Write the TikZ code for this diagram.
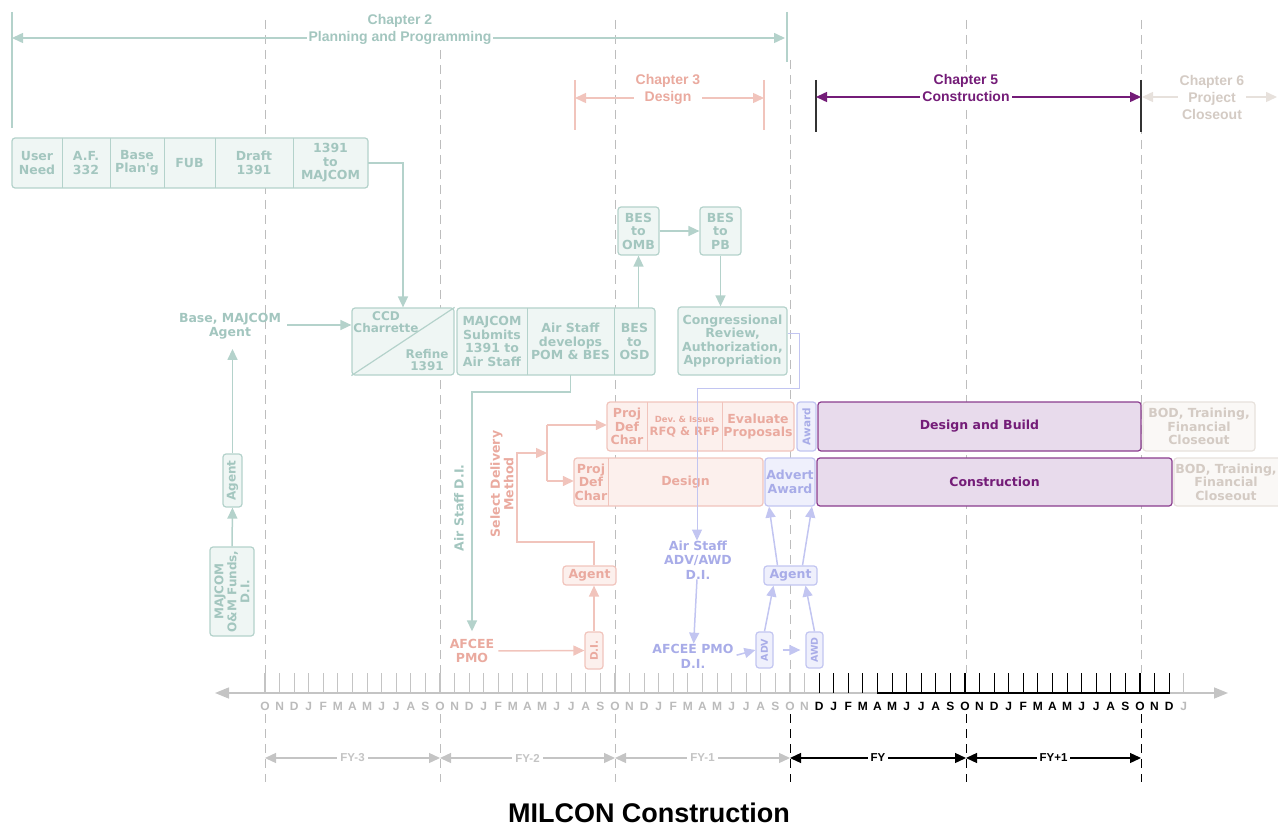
\documentclass[tikz,border=0pt]{standalone}
\usepackage{fontspec}
\setmainfont{Liberation Sans}
\newfontfamily\boxfont{DejaVu Sans}
\usetikzlibrary{arrows.meta,calc}

\definecolor{tealt}{HTML}{A3C6BF}
\definecolor{tealb}{HTML}{B4D2CB}
\definecolor{tealf}{HTML}{EFF6F4}
\definecolor{pinkt}{HTML}{EAAA9F}
\definecolor{pinkb}{HTML}{F1C4BC}
\definecolor{pinkf}{HTML}{FCF0ED}
\definecolor{lavt}{HTML}{A8ACE8}
\definecolor{lavb}{HTML}{C2C5F1}
\definecolor{lavf}{HTML}{EFF0FC}
\definecolor{purt}{HTML}{741C78}
\definecolor{purb}{HTML}{8A3C8E}
\definecolor{purf}{HTML}{E8DBEC}
\definecolor{greyt}{HTML}{D4CBC4}
\definecolor{greyb}{HTML}{E7E1DC}
\definecolor{greyf}{HTML}{FAF8F6}
\definecolor{axisg}{HTML}{C4C4C4}
\definecolor{monthg}{HTML}{BBBBBB}
\definecolor{dashg}{HTML}{BDBDBD}

\begin{document}
\begin{tikzpicture}[x=1pt,y=-1pt,
    >={Triangle[length=11pt,width=10pt]},
    btxt/.style={font=\boxfont\bfseries\fontsize{12.5}{13.5}\selectfont, align=center, inner sep=0pt},
    box/.style={btxt, rounded corners=3pt, line width=1.2pt},
    cell/.style={btxt, minimum height=#1},
    tbox/.style={box, draw=tealb, fill=tealf, text=tealt},
    pbox/.style={box, draw=pinkb, fill=pinkf, text=pinkt},
    lbox/.style={box, draw=lavb, fill=lavf, text=lavt},
    ubox/.style={box, draw=purb, fill=purf, text=purt},
    gbox/.style={box, draw=greyb, fill=greyf, text=greyt},
    tcell/.style={cell=#1, text=tealt},
    pcell/.style={cell=#1, text=pinkt},
    ttext/.style={btxt, text=tealt},
    ptext/.style={btxt, text=pinkt},
    ltext/.style={btxt, text=lavt},
    gtext/.style={btxt, text=greyt},
    tdiv/.style={draw=tealb, line width=1.2pt},
    pdiv/.style={draw=pinkb, line width=1.2pt},
    tarrow/.style={draw=tealb, line width=1.5pt, ->},
    parrow/.style={draw=pinkb, line width=1.5pt, ->},
    pline/.style={draw=pinkb, line width=1.5pt},
    larrow/.style={draw=lavb, line width=1.5pt, ->},
    head/.style={font=\bfseries\fontsize{14}{17}\selectfont, align=center, fill=white, inner sep=2pt},
    bar/.style={line width=1.2pt},
    yline/.style={draw=dashg, line width=1pt, dash pattern=on 9pt off 6pt},
    mtext/.style={font=\bfseries\fontsize{12}{12}\selectfont, inner sep=0pt},
    fytext/.style={font=\bfseries\fontsize{11.5}{12}\selectfont, fill=white, inner sep=3pt}]
\useasboundingbox (0,0) rectangle (1278,829);

% year lines
\foreach \xx/\yy in {265/20,440/50,615/20,790/60,966/20,1141/20}
  \draw[yline] (\xx,\yy) -- (\xx,673);
\foreach \xx/\cc in {265/dashg,440/dashg,615/dashg,790/black,966/black,1141/black}
  \draw[yline,draw=\cc] (\xx,714) -- (\xx,782);

% chapter headers
\coordinate (c2l) at (12,38);
\coordinate (c2r) at (785,38);
\draw[bar,tealb] (12,12) -- (12,128);
\draw[bar,tealb] (787,12) -- (787,62);
\draw[tealb, line width=1.5pt, <->] (c2l) -- (c2r);
\node[head, text=tealt] (ch2) at (400,29) {Chapter 2\\Planning and Programming};

\coordinate (c3l) at (575,98);
\coordinate (c3r) at (764,98);
\draw[bar,pinkb] (575,80) -- (575,130);
\draw[bar,pinkb] (764,80) -- (764,130);
\draw[pinkb, line width=1.5pt, <->] (c3l) -- (c3r);
\node[head, text=pinkt] (ch3) at (668,89) {Chapter 3\\Design};

\coordinate (c5l) at (816,97);
\coordinate (c5r) at (1141,97);
\draw[bar,black!80] (816,80) -- (816,132);
\draw[bar,black!80] (1141,80) -- (1141,132);
\draw[purt, line width=1.5pt, <->] (c5l) -- (c5r);
\node[head, text=purt] (ch5) at (966,88) {Chapter 5\\Construction};

\coordinate (c6l) at (1142,97);
\coordinate (c6r) at (1277,97);
\draw[greyb, line width=1.5pt, <->] (c6l) -- (c6r);
\node[head, text=greyt] (ch6) at (1212,97) {Chapter 6\\Project\\Closeout};

% requirement row
\node[tbox, minimum width=356, minimum height=50] (req) at (190,163) {};
\node[tcell=50, minimum width=50] (un) at (37,163) {User\\Need};
\node[tcell=50, minimum width=48] (af) at (86,163) {A.F.\\332};
\node[tcell=50, minimum width=54] (bp) at (137,163) {Base\\Plan'g};
\node[tcell=50, minimum width=51] (fub) at (189.5,163) {FUB};
\node[tcell=50, minimum width=78] (dr) at (254,163) {Draft\\1391};
\node[tcell=50, minimum width=75] (tm) at (330.5,163) {1391\\to\\MAJCOM};
\foreach \n in {un,af,bp,fub,dr}
  \draw[tdiv] (\n.north east) -- (\n.south east);

% charrette
\node[tbox, minimum width=102, minimum height=67] (ccd) at (403,341.5) {};
\draw[tdiv] (ccd.south west) -- (ccd.north east);
\node[ttext, font=\boxfont\bfseries\fontsize{12}{11.5}\selectfont] (cch) at (386,322) {CCD\\Charrette};
\node[ttext, font=\boxfont\bfseries\fontsize{12}{12.5}\selectfont] (ref) at (427,360) {Refine\\1391};
\draw[tarrow] (tm.east) -| (ccd.north);

\node[ttext] (bma) at (230,326) {Base, MAJCOM\\Agent};
\draw[tarrow, shorten <=6pt] (bma.east |- 0,325) -- (ccd.west |- 0,325);

% submittal row
\node[tbox, minimum width=198, minimum height=67] (sub) at (556,341.5) {};
\node[tcell=67, minimum width=70] (ms) at (492,341.5) {MAJCOM\\Submits\\1391 to\\Air Staff};
\node[tcell=67, minimum width=87] (pom) at (570.5,341.5) {Air Staff\\develops\\POM \& BES};
\node[tcell=67, minimum width=41] (osd) at (634.5,341.5) {BES\\to\\OSD};
\foreach \n in {ms,pom}
  \draw[tdiv] (\n.north east) -- (\n.south east);

\node[tbox, minimum width=41, minimum height=48] (omb) at (638.5,231) {BES\\to\\OMB};
\node[tbox, minimum width=41, minimum height=48] (pb) at (720.5,231) {BES\\to\\PB};
\node[tbox, minimum width=109, minimum height=68] (cong) at (732.5,341) {Congressional\\Review,\\Authorization,\\Appropriation};
\draw[tarrow] (omb.south |- osd.north) -- (omb.south);
\draw[tarrow] (omb) -- (pb);
\draw[tarrow] (pb) -- (pb |- cong.north);

% MAJCOM funds
\node[tbox, rotate=90, minimum width=89, minimum height=44, font=\boxfont\bfseries\fontsize{12}{13}\selectfont] (mom) at (232,591.5) {MAJCOM\\O\&M Funds,\\D.I.};
\node[tbox, rotate=90, minimum width=53, minimum height=19, font=\boxfont\bfseries\fontsize{12}{13}\selectfont] (ag1) at (232.5,480.5) {Agent};
\draw[tarrow] (mom.east) -- (ag1.west);
\draw[tarrow, shorten >=10pt] (ag1.east) -- (ag1.east |- bma.south);

% Air Staff D.I.
\coordinate (asd) at (472,392);
\node[ptext] (afc) at (472,651) {AFCEE\\PMO};
\node[ttext, rotate=90] (asdl) at (459,508) {Air Staff D.I.};
\draw[tarrow, shorten >=8pt] (pom.south) |- (asd) -- (asd |- afc.north);

% delivery rows
\node[pbox, minimum width=187, minimum height=49] (dbr) at (700.5,426.5) {};
\node[pcell=49, minimum width=40] (pd1) at (627,426.5) {Proj\\Def\\Char};
\node[pcell=49, minimum width=75] (rfq) at (684.5,426.5) {{\fontsize{8.5}{9}\selectfont Dev.\ \& Issue}\\{\fontsize{11.5}{13}\selectfont RFQ \& RFP}};
\node[pcell=49, minimum width=72] (evp) at (758,426.5) {Evaluate\\Proposals};
\foreach \n in {pd1,rfq}
  \draw[pdiv] (\n.north east) -- (\n.south east);
\node[lbox, rotate=90, minimum width=49, minimum height=19, font=\boxfont\bfseries\fontsize{10.5}{11}\selectfont] (awb) at (806.5,426.5) {Award};
\node[ubox, minimum width=323, minimum height=49] (dab) at (979.5,426.5) {Design and Build};
\node[gbox, minimum width=112, minimum height=49] (bod1) at (1199,426.5) {BOD, Training,\\Financial\\Closeout};

\node[pbox, minimum width=189, minimum height=48] (drw) at (668.5,482) {};
\node[pcell=48, minimum width=34] (pd2) at (591,482) {Proj\\Def\\Char};
\node[pcell=48, minimum width=155] (dsg) at (685.5,482) {Design};
\draw[pdiv] (pd2.north east) -- (pd2.south east);
\node[lbox, minimum width=50, minimum height=48] (ada) at (790,482) {Advert\\Award};
\node[ubox, minimum width=355, minimum height=48] (con) at (994.5,482) {Construction};
\node[gbox, minimum width=116, minimum height=48] (bod2) at (1232,482) {};
\node[gtext] (bod2t) at (1226,482) {BOD, Training,\\Financial\\Closeout};

% delivery method
\node[ptext, rotate=90] (sdm) at (502,484) {Select Delivery\\Method};
\node[pbox, minimum width=53, minimum height=19] (pag) at (589.5,575.5) {Agent};
\node[pbox, rotate=90, minimum width=37, minimum height=18, font=\boxfont\bfseries\fontsize{10.5}{11}\selectfont] (di) at (594,650.5) {D.I.};
\coordinate (sj) at (517,542);
\coordinate (sk) at (547,453);
\coordinate (sa) at (547,425);
\coordinate (sb) at (547,481);
\draw[parrow] (di.east) -- (di.east |- pag.south);
\draw[parrow] (di.east |- pag.north) |- (sj) |- (sk);
\draw[pline] (sa) -- (sb);
\draw[parrow] (sa) -- (sa -| pd1.west);
\draw[parrow] (sb) -- (sb -| pd2.west);
\draw[parrow, shorten <=4pt] (afc.east) -- (di.north);

% advertise and award
\node[ltext, font=\boxfont\bfseries\fontsize{12.5}{14.5}\selectfont] (asa) at (698,560) {Air Staff\\ADV/AWD\\D.I.};
\node[ltext, font=\boxfont\bfseries\fontsize{12.5}{15}\selectfont] (apm) at (693,656) {AFCEE PMO\\D.I.};
\node[lbox, rotate=90, minimum width=36, minimum height=17, font=\boxfont\bfseries\fontsize{9.5}{10}\selectfont] (adv) at (764.5,650) {ADV};
\node[lbox, rotate=90, minimum width=36, minimum height=17, font=\boxfont\bfseries\fontsize{9.5}{10}\selectfont] (awd) at (814.5,650) {AWD};
\node[lbox, minimum width=53, minimum height=19] (lag) at (790.5,575.5) {Agent};
\coordinate (l1) at (799,333);
\coordinate (l2) at (697,388);
\draw[draw=lavb, line width=1pt, ->] (cong.east |- l1) -- (l1) |- (l2) -- (l2 |- asa.north);
\draw[larrow] (asa) -- (apm);
\draw[larrow, shorten <=3pt] (apm.east) -- (adv.north);
\draw[larrow, shorten <=9pt, shorten >=5pt] (adv.south) -- (awd.north);
\draw[larrow] (adv.east) -- ($(lag.south)+(-17,0)$);
\draw[larrow] (awd.east) -- ($(lag.south)+(15,0)$);
\draw[larrow] ($(lag.north)+(-13,0)$) -- ($(ada.south)+(-21,0)$);
\draw[larrow] ($(lag.north)+(12,0)$) -- ($(ada.south)+(22,0)$);

% time axis
\draw[axisg, line width=1.5pt, {Triangle[length=14pt,width=11pt]}-{Triangle[length=14pt,width=11pt]}] (215,693) -- (1228,693);
\draw[black, line width=1.2pt] (877,693) -- (1170,693);
\foreach \i in {0,...,63} {
  \pgfmathsetmacro\xx{265+14.583*\i}
  \pgfmathparse{{"O","N","D","J","F","M","A","M","J","J","A","S"}[mod(\i,12)]}
  \let\mo\pgfmathresult
  \ifnum\i>37 \ifnum\i<63 \def\cc{black}\def\tc{black}\else\def\cc{axisg}\def\tc{monthg}\fi\else\def\cc{axisg}\def\tc{monthg}\fi
  \draw[\cc, line width=1.1pt] (\xx,673) -- (\xx,693);
  \node[mtext, text=\tc] (m\i) at (\xx,706) {\mo};
}

% fiscal years
\foreach \a/\b/\t/\c [count=\k] in {265/440/FY-3/axisg,440/615/FY-2/axisg,615/790/FY-1/axisg,790/966/FY/black,966/1141/FY+1/black}
  \draw[\c, line width=1.3pt, <->] (\a,758) -- node[fytext, text=\c] (fy\k) {\t} (\b,758);

\node[font=\bfseries\fontsize{27}{28}\selectfont] (title) at (649,813) {MILCON Construction};
\end{tikzpicture}
\end{document}
